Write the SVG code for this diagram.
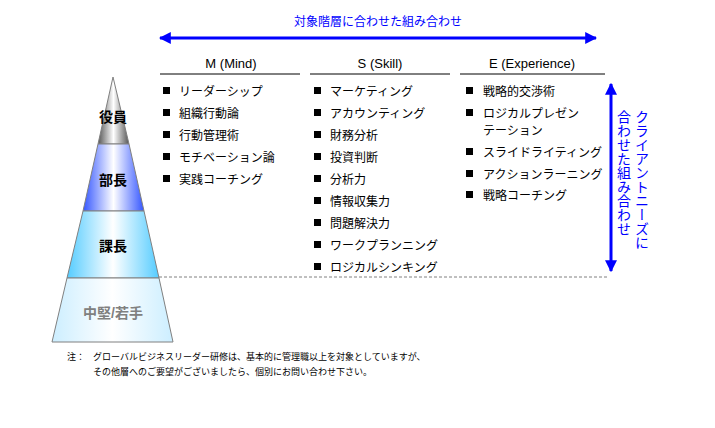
<svg xmlns="http://www.w3.org/2000/svg" width="715" height="428" viewBox="0 0 715 428">
<style>
text{font-family:"Liberation Sans","Noto Sans CJK JP",sans-serif;}
.h{font-size:13px;text-anchor:middle;}
.i{font-size:12px;fill:#000;}
.lv{font-size:14px;font-weight:bold;text-anchor:middle;}
.b{fill:#000;}
.blue{fill:#0000ff;}
.v{font-size:14px;fill:#0000ff;writing-mode:vertical-rl;}
</style>
<defs>
<marker id="ah" viewBox="0 0 10 10" refX="9" refY="5" markerWidth="4" markerHeight="4" orient="auto-start-reverse"><path d="M0,0L10,5L0,10z" fill="#0000ff"/></marker>
<linearGradient id="g1" x1="0" x2="1"><stop offset="0" stop-color="#555"/><stop offset="0.5" stop-color="#fff"/><stop offset="1" stop-color="#555"/></linearGradient>
<linearGradient id="g2" x1="0" x2="1"><stop offset="0" stop-color="#3355ff"/><stop offset="0.5" stop-color="#fff"/><stop offset="1" stop-color="#3355ff"/></linearGradient>
<linearGradient id="g3" x1="0" x2="1"><stop offset="0" stop-color="#55ccff"/><stop offset="0.5" stop-color="#fff"/><stop offset="1" stop-color="#55ccff"/></linearGradient>
<linearGradient id="g4" x1="0" x2="1"><stop offset="0" stop-color="#cceeff"/><stop offset="0.5" stop-color="#fff"/><stop offset="1" stop-color="#cceeff"/></linearGradient>
</defs>
<g id="pyramid" stroke="#808080" stroke-width="1">
<path d="M113,77L129,144L98,144Z" fill="url(#g1)"/>
<path d="M98,144L129,144L144,211L83,211Z" fill="url(#g2)"/>
<path d="M83,211L144,211L159,278L67,278Z" fill="url(#g3)"/>
<path d="M67,278L159,278L173,342L52,342Z" fill="url(#g4)"/>
</g>
<g id="levels">
<text class="lv" x="113" y="122">役員</text>
<text class="lv" x="113" y="185">部長</text>
<text class="lv" x="113" y="251">課長</text>
<text class="lv" x="113" y="318" fill="#808080">中堅/若手</text>
</g>
<g id="connectors">
<line x1="160" y1="38" x2="596" y2="38" stroke="#0000ff" stroke-width="3" marker-start="url(#ah)" marker-end="url(#ah)"/>
<line x1="611" y1="84" x2="611" y2="271" stroke="#0000ff" stroke-width="3" marker-start="url(#ah)" marker-end="url(#ah)"/>
<line x1="159" y1="277" x2="608" y2="277" stroke="#808080" stroke-dasharray="3,2"/>
</g>
<text x="378" y="26" class="blue" font-size="12px" text-anchor="middle">対象階層に合わせた組み合わせ</text>
<g id="colM">
<text class="h" x="231" y="68">M (Mind)</text>
<line x1="160" y1="74" x2="300" y2="74" stroke="#000"/>
<g class="b"><rect x="163" y="87" width="7" height="7"/><rect x="163" y="109" width="7" height="7"/><rect x="163" y="131" width="7" height="7"/><rect x="163" y="153" width="7" height="7"/><rect x="163" y="175" width="7" height="7"/></g>
<text class="i" x="179" y="96">リーダーシップ</text>
<text class="i" x="179" y="118">組織行動論</text>
<text class="i" x="179" y="140">行動管理術</text>
<text class="i" x="179" y="162">モチベーション論</text>
<text class="i" x="179" y="184">実践コーチング</text>
</g>
<g id="colS">
<text class="h" x="380" y="68">S (Skill)</text>
<line x1="310" y1="74" x2="450" y2="74" stroke="#000"/>
<g class="b"><rect x="314" y="87" width="7" height="7"/><rect x="314" y="109" width="7" height="7"/><rect x="314" y="131" width="7" height="7"/><rect x="314" y="153" width="7" height="7"/><rect x="314" y="175" width="7" height="7"/><rect x="314" y="197" width="7" height="7"/><rect x="314" y="219" width="7" height="7"/><rect x="314" y="241" width="7" height="7"/><rect x="314" y="263" width="7" height="7"/></g>
<text class="i" x="330" y="96">マーケティング</text>
<text class="i" x="330" y="118">アカウンティング</text>
<text class="i" x="330" y="140">財務分析</text>
<text class="i" x="330" y="162">投資判断</text>
<text class="i" x="330" y="184">分析力</text>
<text class="i" x="330" y="206">情報収集力</text>
<text class="i" x="330" y="228">問題解決力</text>
<text class="i" x="330" y="250">ワークプランニング</text>
<text class="i" x="330" y="272">ロジカルシンキング</text>
</g>
<g id="colE">
<text class="h" x="532" y="68">E (Experience)</text>
<line x1="460" y1="74" x2="605" y2="74" stroke="#000"/>
<g class="b"><rect x="466" y="87" width="7" height="7"/><rect x="466" y="109" width="7" height="7"/><rect x="466" y="148" width="7" height="7"/><rect x="466" y="170" width="7" height="7"/><rect x="466" y="191" width="7" height="7"/></g>
<text class="i" x="483" y="96">戦略的交渉術</text>
<text class="i" x="483" y="118">ロジカルプレゼン</text>
<text class="i" x="483" y="135">テーション</text>
<text class="i" x="483" y="157">スライドライティング</text>
<text class="i" x="483" y="179">アクションラーニング</text>
<text class="i" x="483" y="200">戦略コーチング</text>
</g>
<g id="vlabel">
<text class="v" x="641" y="110">クライアントニーズに</text>
<text class="v" x="623" y="110">合わせた組み合わせ</text>
</g>
<g id="note">
<text x="67" y="360" font-size="9">注：</text>
<text x="93" y="360" font-size="9">グローバルビジネスリーダー研修は、基本的に管理職以上を対象としていますが、</text>
<text x="93" y="375" font-size="9">その他層へのご要望がございましたら、個別にお問い合わせ下さい。</text>
</g>
</svg>
